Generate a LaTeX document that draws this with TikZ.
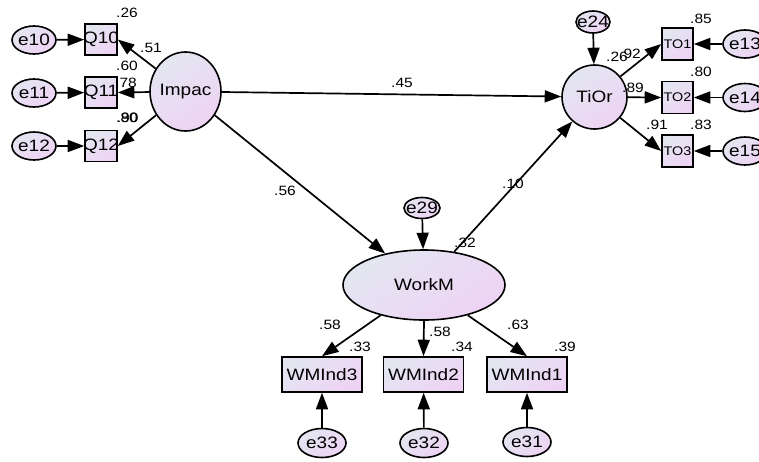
\documentclass[tikz,border=0pt]{standalone}
\usepackage{fontspec}
\setmainfont{Liberation Sans}[FakeStretch=1.15]
\usetikzlibrary{arrows.meta,shapes.geometric}
\definecolor{fillA}{RGB}{227,230,241}
\definecolor{fillB}{RGB}{238,211,244}
\newcommand{\ctr}[1]{\makebox[0pt]{#1}}
\tikzset{
  var/.style={draw=black, line width=1.6pt, top color=fillA, bottom color=fillB,
              shading angle=35, inner sep=0pt, font=\fontsize{16.5}{16.5}\selectfont},
  obs/.style={var, rectangle},
  lat/.style={var, ellipse},
  err/.style={var, ellipse, minimum width=44pt, minimum height=28pt},
  path/.style={line width=1.7pt, -{Triangle[length=16.5pt,width=12pt]}},
  coef/.style={inner sep=0pt, font=\fontsize{13.5}{13.5}\selectfont}
}
\begin{document}
\begin{tikzpicture}[x=1pt,y=-1pt]
\useasboundingbox (0,0) rectangle (759,461);

% latent variables
\node[lat, minimum width=71pt, minimum height=79pt] (Impac) at (185.5,91.5) {\ctr{Impac}};
\node[lat, minimum width=65pt, minimum height=64pt] (TiOr) at (594.5,97) {\ctr{TiOr}};
\node[lat, minimum width=162pt, minimum height=70pt] (WorkM) at (424,285) {\ctr{WorkM}};

% indicators of Impac
\node[obs, minimum width=32pt, minimum height=31pt] (Q10) at (101,39.5) {\ctr{Q10}};
\node[obs, minimum width=32pt, minimum height=31pt] (Q11) at (101,92.5) {\ctr{Q11}};
\node[obs, minimum width=32pt, minimum height=31pt] (Q12) at (101,146) {\ctr{Q12}};
\node[err] (e10) at (34,40) {\ctr{e10}};
\node[err] (e11) at (34,93) {\ctr{e11}};
\node[err] (e12) at (34,146) {\ctr{e12}};

% indicators of TiOr
\node[obs, minimum width=31pt, minimum height=32pt, font=\fontsize{12.5}{12.5}\selectfont] (TO1) at (677.5,44) {\ctr{TO1}};
\node[obs, minimum width=31pt, minimum height=32pt, font=\fontsize{12.5}{12.5}\selectfont] (TO2) at (677.5,97.5) {\ctr{TO2}};
\node[obs, minimum width=31pt, minimum height=32pt, font=\fontsize{12.5}{12.5}\selectfont] (TO3) at (677.5,151) {\ctr{TO3}};
\node[err] (e13) at (745,44) {\ctr{e13}};
\node[err] (e14) at (745,97.5) {\ctr{e14}};
\node[err] (e15) at (745,151) {\ctr{e15}};
\node[err, minimum width=34pt, minimum height=22pt] (e24) at (593,22) {\ctr{e24}};

% indicators of WorkM
\node[obs, minimum width=80pt, minimum height=35pt] (WM3) at (322,374.5) {\ctr{WMInd3}};
\node[obs, minimum width=80pt, minimum height=35pt] (WM2) at (423.5,374.5) {\ctr{WMInd2}};
\node[obs, minimum width=80pt, minimum height=35pt] (WM1) at (527,374.5) {\ctr{WMInd1}};
\node[err, minimum width=48pt, minimum height=29pt] (e33) at (322,443) {\ctr{e33}};
\node[err, minimum width=48pt, minimum height=29pt] (e32) at (424,443) {\ctr{e32}};
\node[err, minimum width=48pt, minimum height=29pt] (e31) at (527,442) {\ctr{e31}};
\node[err, minimum width=36pt, minimum height=21pt] (e29) at (422,208) {\ctr{e29}};

% structural paths
\draw[path] (Impac) -- (TiOr);
\draw[path] (Impac) -- (WorkM);
\draw[path] (WorkM) -- (TiOr);

% measurement paths
\draw[path] (Impac) -- (Q10.east);
\draw[path] (Impac) -- (Q11.east);
\draw[path] (Impac) -- (Q12.east);
\draw[path] (TiOr) -- (TO1.west);
\draw[path] (TiOr) -- (TO2.west);
\draw[path] (TiOr) -- (TO3.west);
\draw[path] (WorkM) -- (WM3.north);
\draw[path] (WorkM.south) -- (WM2.north);
\draw[path] (WorkM) -- (WM1.north);

% error terms
\draw[path] (e10) -- (Q10);
\draw[path] (e11) -- (Q11);
\draw[path] (e12) -- (Q12);
\draw[path] (e13) -- (TO1);
\draw[path] (e14) -- (TO2);
\draw[path] (e15) -- (TO3);
\draw[path] (e24) -- (TiOr);
\draw[path] (e29) -- (WorkM);
\draw[path] (e33) -- (WM3);
\draw[path] (e32) -- (WM2);
\draw[path] (e31) -- (WM1);

% estimates
\node[coef] (c26a) at (127,13) {.26};
\node[coef] (c51) at (151,48) {.51};
\node[coef] (c60) at (127,66) {.60};
\node[coef] (c78) at (126,83) {.78};
\node[coef] (c80a) at (127,118) {.80};
\node[coef] (c90) at (127.6,118) {.90};
\node[coef] (c45) at (402,83) {.45};
\node[coef] (c56) at (285,191) {.56};
\node[coef] (c10) at (513,184) {.10};
\node[coef] (c32) at (465,243) {.32};
\node[coef] (c26b) at (617,57) {.26};
\node[coef] (c92) at (630,54) {.92};
\node[coef] (c89) at (633,88) {.89};
\node[coef] (c91) at (657,125) {.91};
\node[coef] (c85) at (701,19) {.85};
\node[coef] (c80b) at (701,72) {.80};
\node[coef] (c83) at (701,125) {.83};
\node[coef] (c58a) at (330,325) {.58};
\node[coef] (c33) at (360,347) {.33};
\node[coef] (c58b) at (440,332) {.58};
\node[coef] (c34) at (462,347) {.34};
\node[coef] (c63) at (518,325) {.63};
\node[coef] (c39) at (565,347) {.39};
\end{tikzpicture}
\end{document}
